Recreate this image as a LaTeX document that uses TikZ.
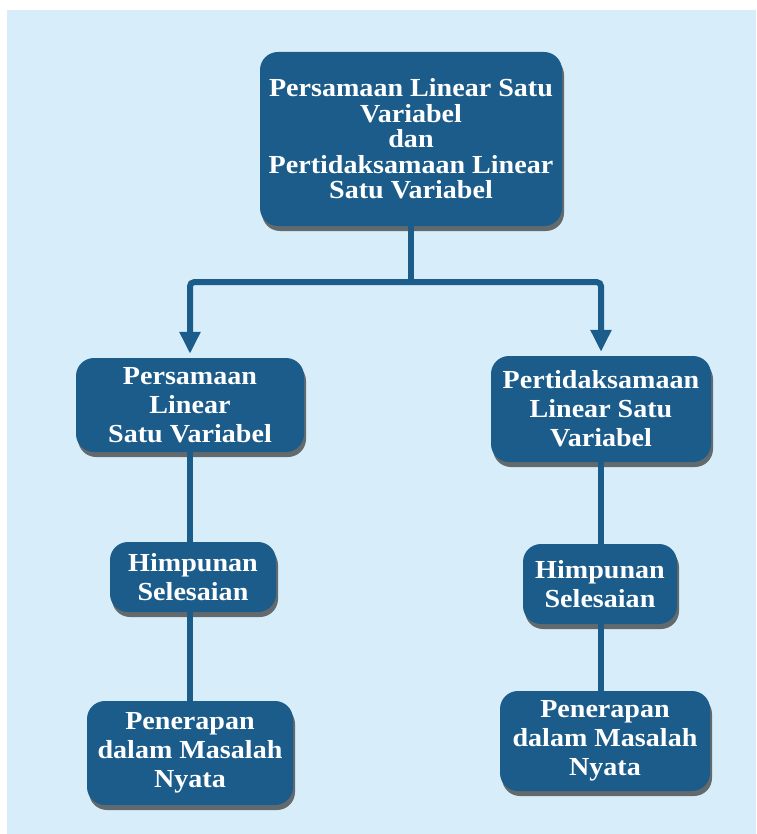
\documentclass[tikz,border=0pt]{standalone}
\usepackage{fontspec}
\setmainfont{Liberation Serif}[FakeStretch=1.08]
\usepackage{tikz}
\usetikzlibrary{positioning,shadows,arrows.meta}
\definecolor{biru}{RGB}{27,92,138}
\definecolor{latar}{RGB}{215,238,250}

\begin{document}
\begin{tikzpicture}[x=1pt,y=1pt,node distance=170pt,
  kotak/.style={rectangle,rounded corners=18pt,fill=biru,text=white,align=center,inner sep=0pt,
    font=\bfseries\fontsize{26}{29}\selectfont,
    drop shadow={shadow xshift=2pt,shadow yshift=-5pt,opacity=0.7,fill=black!80}},
  garis/.style={draw=biru,line width=6pt},
  panah/.style={garis,rounded corners=4pt,shorten >=4pt,-{Triangle[length=22pt,width=20pt]}}]
\useasboundingbox (0,0) rectangle (756,-834);
% Latar
\fill[white] (0,0) rectangle (756,-834);
\fill[latar] (7,-10) rectangle (756,-834);
% Judul
\node[kotak, minimum width=302pt, minimum height=174pt, font=\bfseries\fontsize{26}{25.5}\selectfont] (plsv) at (411,-139) {Persamaan Linear Satu\\Variabel\\dan\\Pertidaksamaan Linear\\Satu Variabel};
% Cabang kiri
\node[kotak, below of=plsv, xshift=-221pt, yshift=-96pt, minimum width=228pt, minimum height=94pt] (persamaan) {Persamaan\\Linear\\Satu Variabel};
\node[kotak, below of=persamaan, xshift=3pt, yshift=-2pt, minimum width=166pt, minimum height=70pt] (himpunan-A) {Himpunan\\Selesaian};
\node[kotak, below of=himpunan-A, xshift=-3pt, yshift=-6pt, minimum width=206pt, minimum height=104pt] (penerapan-A) {Penerapan\\dalam Masalah\\Nyata};
% Cabang kanan
\node[kotak, below of=plsv, xshift=190pt, yshift=-100pt, minimum width=220pt, minimum height=106pt] (pertidaksamaan) {Pertidaksamaan\\Linear Satu\\Variabel};
\node[kotak, below of=pertidaksamaan, xshift=-1pt, yshift=-5pt, minimum width=154pt, minimum height=80pt] (himpunan-B) {Himpunan\\Selesaian};
\node[kotak, below of=himpunan-B, xshift=5pt, yshift=13pt, minimum width=210pt, minimum height=100pt] (penerapan-B) {Penerapan\\dalam Masalah\\Nyata};
% Garis
\coordinate (cabang) at ([yshift=-56pt]plsv.south);
\draw[garis] (plsv.south) -- (cabang);
\draw[panah] (cabang) -| (persamaan.north);
\draw[panah] (cabang) -| (pertidaksamaan.north);
\draw[garis] (persamaan.south) -- (persamaan.south |- himpunan-A.north);
\draw[garis] (persamaan.south |- himpunan-A.south) -- (persamaan.south |- penerapan-A.north);
\draw[garis] (pertidaksamaan.south) -- (pertidaksamaan.south |- himpunan-B.north);
\draw[garis] (pertidaksamaan.south |- himpunan-B.south) -- (pertidaksamaan.south |- penerapan-B.north);
\end{tikzpicture}
\end{document}
